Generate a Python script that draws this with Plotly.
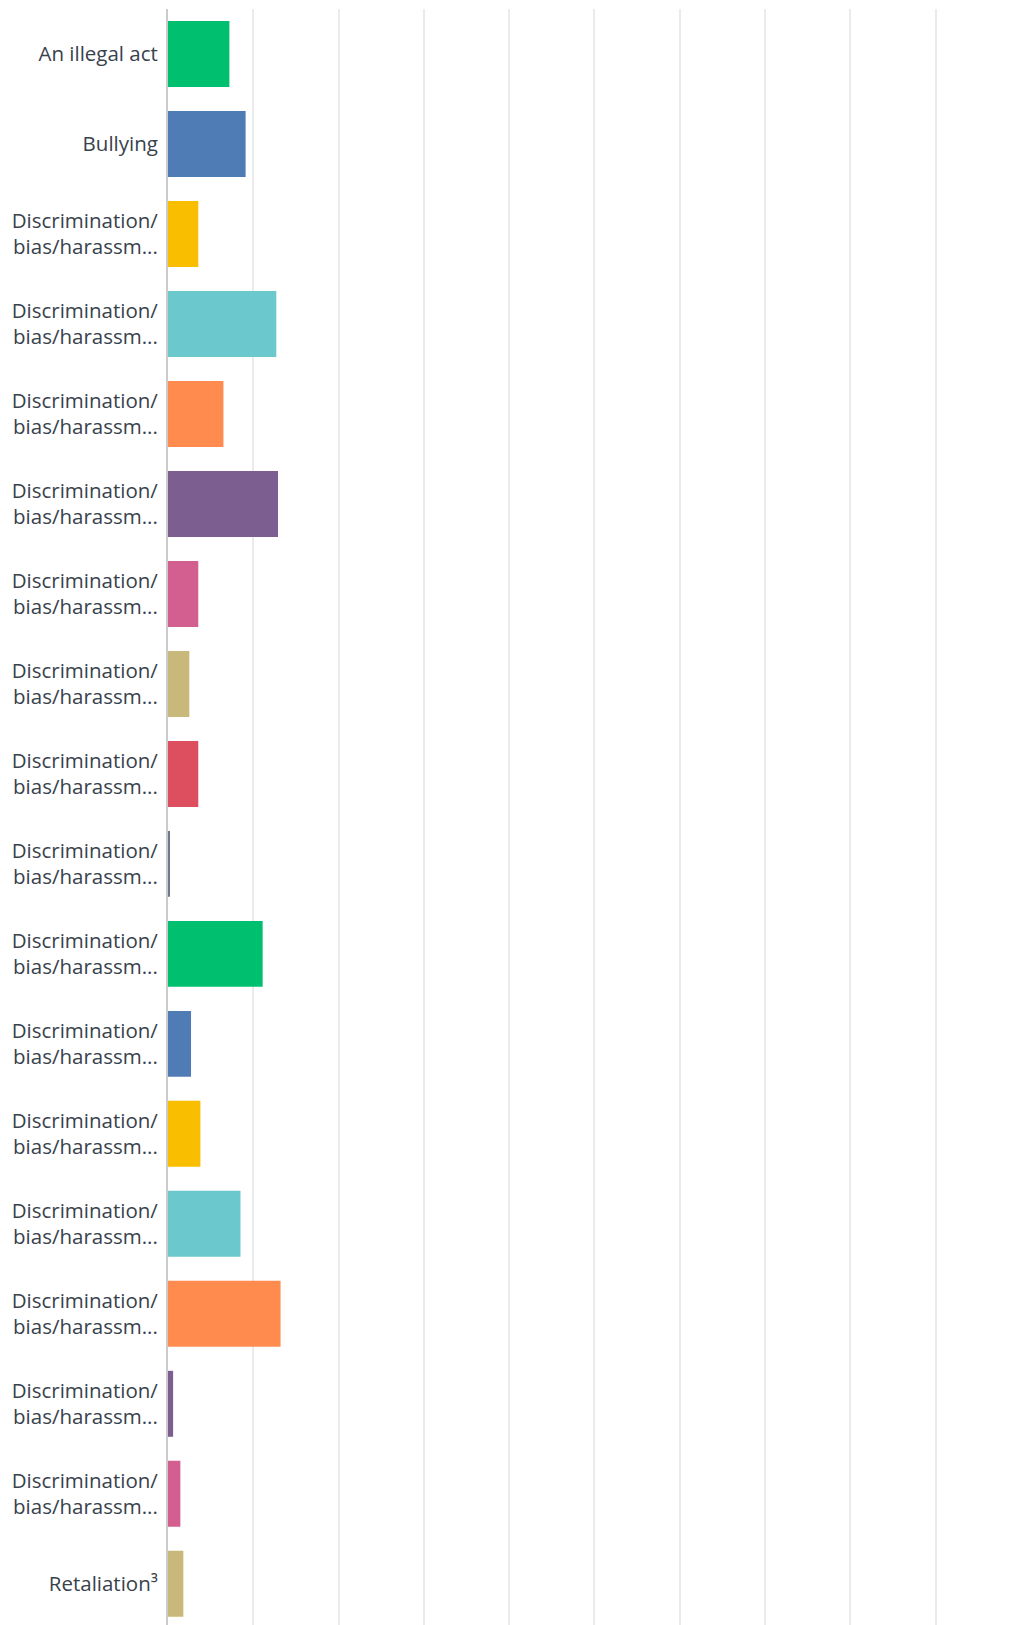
import plotly.graph_objects as go

# Survey answer categories (top to bottom)
categories = [
    "An illegal act",
    "Bullying",
    "Discrimination/<br>bias/harassm...",
    "Discrimination/<br>bias/harassm...",
    "Discrimination/<br>bias/harassm...",
    "Discrimination/<br>bias/harassm...",
    "Discrimination/<br>bias/harassm...",
    "Discrimination/<br>bias/harassm...",
    "Discrimination/<br>bias/harassm...",
    "Discrimination/<br>bias/harassm...",
    "Discrimination/<br>bias/harassm...",
    "Discrimination/<br>bias/harassm...",
    "Discrimination/<br>bias/harassm...",
    "Discrimination/<br>bias/harassm...",
    "Discrimination/<br>bias/harassm...",
    "Discrimination/<br>bias/harassm...",
    "Discrimination/<br>bias/harassm...",
    "Retaliation³",
]

# Share of responses (%)
values = [7.2, 9.1, 3.55, 12.7, 6.5, 12.9, 3.55, 2.5, 3.55, 0.15,
          11.1, 2.7, 3.8, 8.5, 13.2, 0.6, 1.45, 1.8]

palette = ["#00BF6F", "#507CB6", "#F9BE00", "#6BC8CD", "#FF8B4F",
           "#7D5E90", "#D25F90", "#C8B97A", "#DD4F5E", "#6B7A8C"]
colors = [palette[i % len(palette)] for i in range(len(values))]

positions = list(range(len(categories)))

fig = go.Figure(
    go.Bar(
        x=values,
        y=positions,
        orientation="h",
        width=0.733,
        marker=dict(color=colors, line=dict(width=0)),
        hoverinfo="x+y",
    )
)

fig.update_layout(
    width=1014,
    height=1625,
    margin=dict(l=168, r=0, t=9, b=0, autoexpand=False),
    paper_bgcolor="white",
    plot_bgcolor="white",
    showlegend=False,
    font=dict(family="Open Sans", size=20.5, color="#38424C"),
)

fig.update_xaxes(
    range=[0, 99.2],
    dtick=10,
    showgrid=True,
    gridcolor="#EBEBEB",
    gridwidth=2,
    zeroline=False,
    showline=False,
    showticklabels=False,
    fixedrange=True,
)

fig.update_yaxes(
    tickvals=positions,
    ticktext=categories,
    range=[17.458, -0.5],
    showgrid=False,
    zeroline=False,
    showline=True,
    linecolor="#CCCCCC",
    linewidth=2,
    ticks="",
    ticklabelstandoff=4,
    fixedrange=True,
)

fig.write_html("out.html")
